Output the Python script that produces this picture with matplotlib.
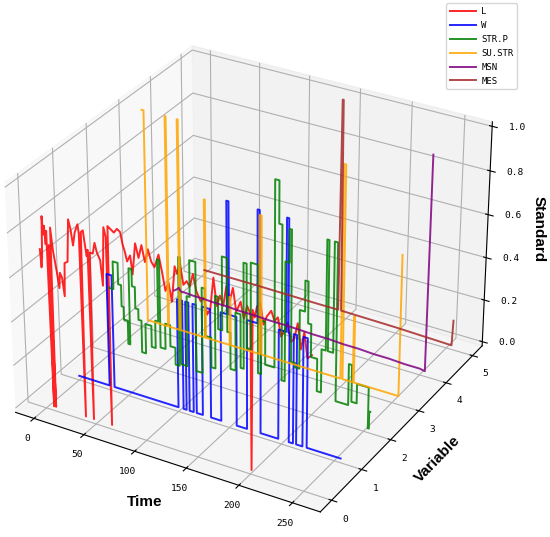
import numpy as np
import matplotlib.pyplot as plt

plt.rcParams['font.family'] = ['DejaVu Sans Mono', 'DejaVu Sans']

## Data
names = ['L', 'W', 'STR.P', 'SU.STR', 'MSN', 'MES']
colors = ['red', 'blue', 'green', 'orange', 'purple', 'brown']
t_end = 256

# L : plain line
red_t = [0, 1, 2, 3, 4, 5, 6, 7, 8, 9, 10, 11, 13, 16, 18, 19, 21, 23, 24, 27,
         29, 31, 33, 35, 38, 39, 40, 41, 43, 44, 46, 47, 48, 49, 52, 54, 56, 59,
         61, 63, 65, 66, 67, 70, 73, 76, 79, 81, 83, 85, 88, 90, 93, 96, 99, 102,
         105, 108, 111, 115, 118, 121, 124, 127, 130, 132, 135, 138, 141, 144,
         147, 150, 154, 157, 160, 163, 166, 169, 172, 175, 178, 181, 184, 187,
         191, 194, 197, 200, 201, 202, 204, 206, 209, 212, 215, 219, 222, 225,
         228, 231, 234, 237, 240, 243, 246, 249, 252, 256]
red_v = [0.71, 0.63, 0.68, 0.86, 0.78, 0.82, 0.74, 0.80, 0.0, 0.74, 0.0, 0.82,
         0.72, 0.63, 0.56, 0.63, 0.61, 0.53, 0.68, 0.69, 0.88, 0.84, 0.77, 0.83,
         0.87, 0.83, 0.0, 0.84, 0.85, 0.81, 0.74, 0.77, 0.0, 0.76, 0.76, 0.81,
         0.77, 0.74, 0.63, 0.89, 0.85, 0.0, 0.90, 0.89, 0.88, 0.90, 0.89, 0.84,
         0.81, 0.77, 0.80, 0.72, 0.86, 0.80, 0.86, 0.79, 0.85, 0.80, 0.78, 0.84,
         0.77, 0.69, 0.73, 0.65, 0.81, 0.78, 0.83, 0.74, 0.76, 0.74, 0.80, 0.73,
         0.69, 0.71, 0.64, 0.67, 0.81, 0.69, 0.74, 0.70, 0.79, 0.73, 0.79, 0.69,
         0.74, 0.67, 0.73, 0.70, 0.0, 0.72, 0.69, 0.74, 0.76, 0.67, 0.71, 0.74,
         0.70, 0.72, 0.64, 0.67, 0.71, 0.63, 0.65, 0.72, 0.61, 0.69, 0.58, 0.60]

# W : step series (time where a level starts, level)
blue_t = [0, 31, 36, 100, 105, 108, 111, 115, 118, 124, 132, 142, 148, 150,
          157, 167, 177, 179, 180, 197, 204, 206, 207, 211, 214, 220, 224]
blue_v = [0.0, 0.52, 0.0, 0.50, 0.0, 0.50, 0.0, 0.50, 0.0, 0.50, 0.0, 0.50,
          1.0, 0.50, 0.0, 0.50, 1.0, 0.50, 0.0, 0.50, 1.0, 0.50, 0.0, 0.50,
          0.0, 0.50, 0.0]

# STR.P : step series
green_t = [0, 4, 9, 12, 14, 18, 20, 23, 26, 29, 32, 36, 42, 46, 49, 51, 56, 61,
           66, 70, 72, 78, 81, 87, 93, 96, 102, 106, 109, 113, 118, 121, 126,
           131, 134, 137, 141, 148, 151, 155, 164, 168, 171, 174, 178, 180, 184,
           188, 193, 196, 199, 205, 209, 213, 215, 220, 223, 235, 238, 243, 254,
           255]
green_v = [0.29, 0.42, 0.32, 0.22, 0.16, 0.05, 0.41, 0.33, 0.23, 0.18, 0.03,
           0.17, 0.07, 0.20, 0.49, 0.08, 0.20, 0.10, 0.02, 0.53, 0.03, 0.36,
           0.53, 0.02, 0.42, 0.20, 0.06, 0.40, 0.25, 0.59, 0.25, 0.08, 0.35,
           0.10, 0.59, 0.20, 0.60, 0.10, 0.35, 0.15, 1.0, 0.81, 0.10, 0.65,
           0.80, 0.20, 0.18, 0.45, 0.59, 0.40, 0.25, 0.10, 0.30, 0.80, 0.30,
           0.80, 0.08, 0.27, 0.10, 0.19, 0.0, 0.08]

# SU.STR : step series, last sample jumps up
orange_t = [4, 6, 27, 28, 39, 40, 65, 66, 90, 91, 120, 122, 200, 202, 212, 213, 256]
orange_v = [1.0, 0.02, 1.0, 0.02, 1.0, 0.02, 0.67, 0.02, 0.25, 0.02, 0.67,
            0.02, 1.0, 0.02, 0.33, 0.02, 0.67]

# MSN : plain line
purple_t = [2, 5, 7, 9, 14, 22, 32, 42, 56, 70, 85, 100, 115, 130, 145, 160,
            175, 190, 205, 220, 235, 250, 255, 256]
purple_v = [0.035, 0.045, 0.055, 0.04, 0.04, 0.037, 0.037, 0.034, 0.034, 0.03,
            0.03, 0.027, 0.027, 0.025, 0.022, 0.022, 0.018, 0.018, 0.014, 0.014,
            0.01, 0.01, 0.005, 1.0]

# MES : plain line
brown_t = [3, 60, 120, 142, 143, 144, 145, 200, 255, 256]
brown_v = [0.015, 0.015, 0.012, 0.012, 1.0, 1.0, 0.012, 0.008, 0.0, 0.12]


def steps(t, v, end):
    xs, zs = [], []
    for i in range(len(t)):
        t1 = t[i + 1] if i + 1 < len(t) else end
        xs += [t[i], t1]
        zs += [v[i], v[i]]
    return xs, zs


series = [
    (red_t, red_v),
    steps(blue_t, blue_v, t_end),
    steps(green_t, green_v, t_end),
    steps(orange_t, orange_v, t_end),
    (purple_t, purple_v),
    (brown_t, brown_v),
]

fig = plt.figure(figsize=(5.5, 5.37), dpi=100)
ax = fig.add_axes([-0.058, -0.017, 1.01, 1.01], projection='3d')

for i, (xs, zs) in enumerate(series):
    ax.plot(xs, np.full(len(xs), i), zs, color=colors[i], alpha=0.85,
            linewidth=1.4, label=names[i])

ax.set_xlim(-18.7, 275.7)
ax.set_ylim(-0.37, 5.37)
ax.set_zlim(-0.02, 1.02)
ax.set_xticks([0, 50, 100, 150, 200, 250])
ax.set_yticks([0, 1, 2, 3, 4, 5])
ax.set_zticks([0.0, 0.2, 0.4, 0.6, 0.8, 1.0])
ax.tick_params(labelsize=6.8)
ax.xaxis.set_tick_params(pad=0)
ax.yaxis.set_tick_params(pad=1)
ax.zaxis.set_tick_params(pad=3)

lab = dict(family='Liberation Sans', weight='bold', size=11)
ax.set_xlabel('Time', fontdict=lab, labelpad=0)
ax.set_ylabel('Variable', fontdict=lab, labelpad=1)
ax.zaxis.set_rotate_label(False)
ax.set_zlabel('Standard', fontdict=lab, labelpad=2, rotation=270)

ax.legend(loc='upper right', bbox_to_anchor=(0.94, 0.994),
          bbox_transform=fig.transFigure, borderaxespad=0, fontsize=6.5,
          handlelength=2.9, labelspacing=0.55, handletextpad=0.6)

fig.savefig('out.png', dpi=100)
